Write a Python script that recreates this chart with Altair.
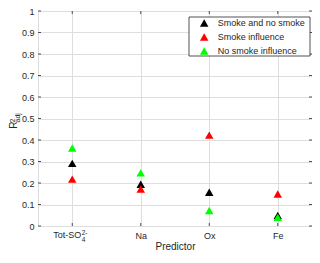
import altair as alt
import pandas as pd

# ---- data ----
predictors = ["Tot", "Na", "Ox", "Fe"]
series = ["Smoke and no smoke", "Smoke influence", "No smoke influence"]
colors = ["#000000", "#ff0000", "#00ff00"]
vals_all = [0.291, 0.194, 0.157, 0.049]
vals_smoke = [0.218, 0.172, 0.423, 0.149]
vals_nosmoke = [0.363, 0.247, 0.072, 0.040]
y_ticks = [0, 0.1, 0.2, 0.3, 0.4, 0.5, 0.6, 0.7, 0.8, 0.9, 1]

rows = []
for s, vals in zip(series, [vals_all, vals_smoke, vals_nosmoke]):
    for p, v in zip(predictors, vals):
        rows.append({"predictor": p, "value": v, "series": s})
df = pd.DataFrame(rows)

W, H = 274, 215
FONT = "Liberation Sans"
TXT = "#262626"
GRID = "#dedede"
LP = 5  # x label padding

xscale = alt.Scale(domain=predictors, type="point", padding=0.5)
yscale = alt.Scale(domain=[0, 1], nice=False)

xaxis = alt.Axis(
    labelExpr="datum.value == 'Tot' ? '' : datum.value",
    ticks=False, domain=False, grid=True, gridColor=GRID, gridWidth=1,
    labelFont=FONT, labelFontSize=9, labelColor=TXT, labelPadding=LP, labelAngle=0,
    title="Predictor", titleFont=FONT, titleFontSize=10, titleFontWeight="normal",
    titleColor=TXT, titlePadding=1)
yaxis = alt.Axis(
    values=y_ticks, format=".1~f", ticks=False, domain=False, grid=True,
    gridColor=GRID, gridWidth=1, labelFont=FONT, labelFontSize=9,
    labelColor=TXT, labelPadding=4, labelOverlap=False, title=None)

X = alt.X("predictor:N", scale=xscale, sort=predictors, axis=xaxis)
Y = alt.Y("value:Q", scale=yscale, axis=yaxis)

points = alt.Chart(df).mark_point(
    shape="triangle-up", filled=True, size=72, opacity=1, strokeWidth=0
).encode(
    x=X, y=Y,
    color=alt.Color("series:N", scale=alt.Scale(domain=series, range=colors),
                    legend=alt.Legend(
                        orient="none", legendX=W - 112.3, legendY=7.5, title=None,
                        labelFont=FONT, labelFontSize=9, labelColor=TXT,
                        symbolType="triangle-up", symbolSize=72, symbolStrokeWidth=0,
                        rowPadding=4, padding=0, labelOffset=9)),
    order=alt.Order("series_order:Q"),
).transform_calculate(
    series_order="indexof(%s, datum.series)" % str(series)
)

one = pd.DataFrame({"predictor": ["Tot"]})

legend_box = alt.Chart(one).mark_rect(
    fill="white", stroke=TXT, strokeWidth=0.8
).encode(x=alt.value(W - 123), x2=alt.value(W - 2), y=alt.value(6), y2=alt.value(45))

tick_df = pd.DataFrame({"value": y_ticks})
yt_left = alt.Chart(tick_df).mark_rule(color=TXT, strokeWidth=0.8).encode(
    y=Y, x=alt.value(0), x2=alt.value(3))
yt_right = alt.Chart(tick_df).mark_rule(color=TXT, strokeWidth=0.8).encode(
    y=Y, x=alt.value(W - 3), x2=alt.value(W))

xtick_df = pd.DataFrame({"predictor": predictors})
xt_bot = alt.Chart(xtick_df).mark_rule(color=TXT, strokeWidth=0.8).encode(
    x=X, y=alt.value(H - 3), y2=alt.value(H))
xt_top = alt.Chart(xtick_df).mark_rule(color=TXT, strokeWidth=0.8).encode(
    x=X, y=alt.value(0), y2=alt.value(3))

# Tot-SO4^2- label
tot_main = alt.Chart(one).mark_text(
    align="right", baseline="top", dx=9, font=FONT, fontSize=9, color=TXT, text="Tot-SO"
).encode(x=X, y=alt.value(H + LP))
tot_sup = alt.Chart(one).mark_text(
    align="left", baseline="top", dx=9.5, font=FONT, fontSize=6.5, color=TXT, text="2-"
).encode(x=X, y=alt.value(H + LP - 1.5))
tot_sub = alt.Chart(one).mark_text(
    align="left", baseline="top", dx=9.5, font=FONT, fontSize=6.5, color=TXT, text="4"
).encode(x=X, y=alt.value(H + LP + 6))

# y title R^2_adj
r_main = alt.Chart(one).mark_text(
    align="left", baseline="alphabetic", angle=270, font=FONT, fontSize=10, color=TXT, text="R"
).encode(x=alt.value(-21), y=alt.value(117.7))
r_sup = alt.Chart(one).mark_text(
    align="left", baseline="alphabetic", angle=270, font=FONT, fontSize=7, color=TXT, text="2"
).encode(x=alt.value(-23), y=alt.value(111.5))
r_sub = alt.Chart(one).mark_text(
    align="left", baseline="alphabetic", angle=270, font=FONT, fontSize=7, color=TXT, text="adj"
).encode(x=alt.value(-18.5), y=alt.value(111.5))

chart = alt.layer(
    yt_left, yt_right, xt_bot, xt_top, legend_box, points,
    tot_main, tot_sup, tot_sub, r_main, r_sup, r_sub
).properties(
    width=W, height=H,
    autosize=alt.AutoSizeParams(type="none"),
    padding={"left": 30, "top": 3, "right": 0, "bottom": 28},
).configure_view(stroke=TXT, strokeWidth=1).configure(background="white")

chart.save("out.html", embed_options={"renderer": "svg", "actions": False})
